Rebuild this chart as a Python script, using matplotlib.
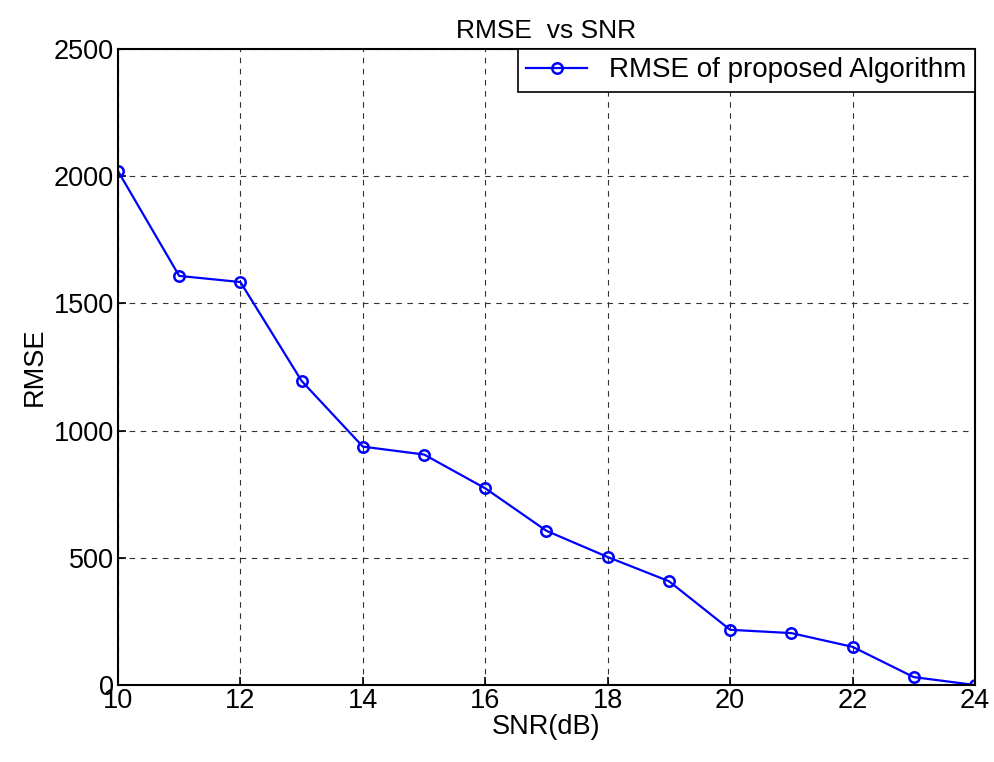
import matplotlib.pyplot as plt

snr = [10, 11, 12, 13, 14, 15, 16, 17, 18, 19, 20, 21, 22, 23, 24]
rmse = [2020, 1608, 1584, 1195, 937, 906, 773, 606, 503, 408, 217, 204, 150, 31, 0]

plt.rcParams["font.family"] = ["Liberation Sans", "DejaVu Sans"]

fig = plt.figure(figsize=(9.95, 7.62), dpi=100)
ax = fig.add_axes([118 / 995, 1 - 685 / 762, (975 - 118) / 995, (685 - 49) / 762])

ax.plot(snr, rmse, color="#0000ff", linewidth=1.6, marker="o", markersize=7.5,
        markerfacecolor="none", markeredgewidth=1.8, label="RMSE of proposed Algorithm")

ax.set_xlim(10, 24)
ax.set_ylim(0, 2500)
ax.set_xticks(range(10, 25, 2))
ax.set_yticks(range(0, 2501, 500))
ax.grid(True, color="#333333", linestyle=(0, (5, 5)), linewidth=0.8)
ax.tick_params(direction="in", labelsize=19.5, length=6, width=1.2, pad=3)
ax.tick_params(axis="x", pad=2)
for s in ax.spines.values():
    s.set_linewidth(1.5)

ax.set_title("RMSE  vs SNR", fontsize=19, pad=8)
ax.set_xlabel("SNR(dB)", fontsize=19.5, labelpad=0)
ax.set_ylabel("RMSE", fontsize=19.5, labelpad=4)

leg = ax.legend(loc="upper right", fontsize=20, fancybox=False, framealpha=1,
                edgecolor="black", borderaxespad=0, handlelength=2.2,
                borderpad=0.3)
leg.get_frame().set_linewidth(1.2)

fig.savefig("out.png", dpi=100, facecolor="white")
